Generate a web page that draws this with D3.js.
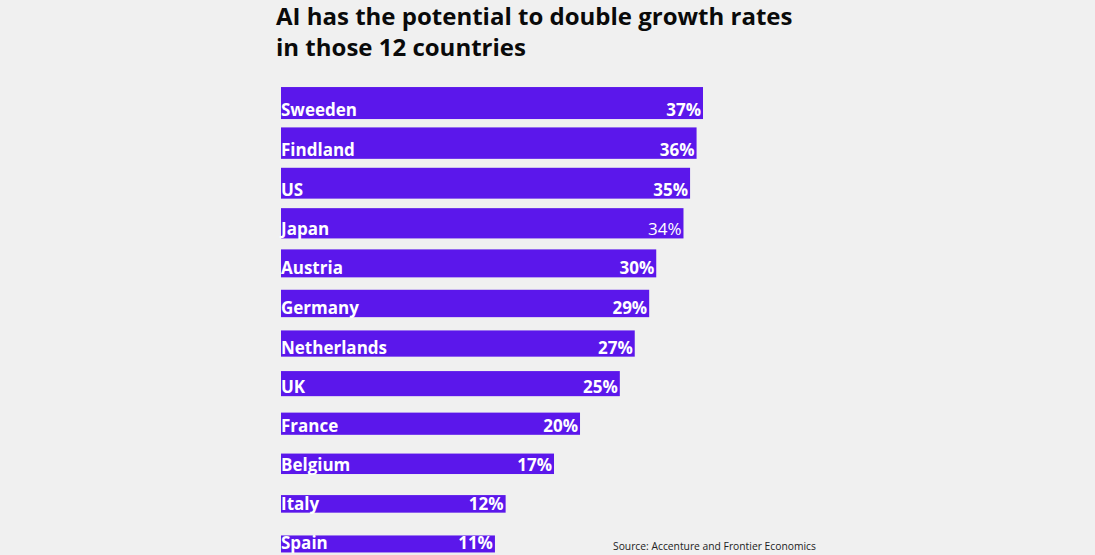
<!DOCTYPE html>
<html>
<head>
<meta charset="utf-8">
<script src="https://cdn.jsdelivr.net/npm/d3@7"></script>
<style>
  html, body { margin: 0; padding: 0; background: #f0f0f0; }
  svg { display: block; }
  text { font-family: "Open Sans", "Noto Sans", sans-serif; }
</style>
</head>
<body>
<script>
const countries = ["Sweeden", "Findland", "US", "Japan", "Austria", "Germany", "Netherlands", "UK", "France", "Belgium", "Italy", "Spain"];
const values = [37, 36, 35, 34, 30, 29, 27, 25, 20, 17, 12, 11];
const titleLines = ["AI has the potential to double growth rates", "in those 12 countries"];
const sourceText = "Source: Accenture and Frontier Economics";

const W = 1095, H = 555;
const data = countries.map((c, i) => ({ name: c, value: values[i] }));

const svg = d3.select("body").append("svg").attr("width", W).attr("height", H);
svg.append("rect").attr("width", W).attr("height", H).attr("fill", "#f0f0f0");

const x = d3.scalePow().exponent(0.56).domain([0, 37]).range([0, 422]);
const x0 = 281;
const y = d3.scaleBand().domain(countries).range([83, 564]).padding(0);
const h = d3.scaleLinear().domain([11, 37]).range([17, 32]);

svg.append("g").selectAll("text").data(titleLines).join("text")
  .attr("x", 276).attr("y", (d, i) => 25 + i * 31)
  .attr("font-size", 24).attr("font-weight", 700).attr("fill", "#0a0a0a")
  .text(d => d);

const g = svg.append("g");
const rows = g.selectAll("g").data(data).join("g");

rows.append("rect")
  .attr("x", x0)
  .attr("y", d => y(d.name) + y.bandwidth() / 2 - h(d.value) / 2)
  .attr("width", d => x(d.value))
  .attr("height", d => h(d.value))
  .attr("fill", "#5b17eb");

rows.append("text")
  .attr("x", x0)
  .attr("y", d => y(d.name) + y.bandwidth() / 2 + h(d.value) / 2 - 3)
  .attr("font-size", 17).attr("font-weight", 700).attr("fill", "#ffffff")
  .text(d => d.name);

rows.append("text")
  .attr("x", d => x0 + x(d.value) - 2)
  .attr("y", d => y(d.name) + y.bandwidth() / 2 + h(d.value) / 2 - 3)
  .attr("text-anchor", "end")
  .attr("font-size", 17)
  .attr("font-weight", d => d.name === "Japan" ? 400 : 700)
  .attr("fill", "#ffffff")
  .text(d => d.value + "%");

svg.append("text")
  .attr("x", 613).attr("y", 549.5)
  .attr("font-size", 10.3).attr("fill", "#222")
  .text(sourceText);
</script>
</body>
</html>
